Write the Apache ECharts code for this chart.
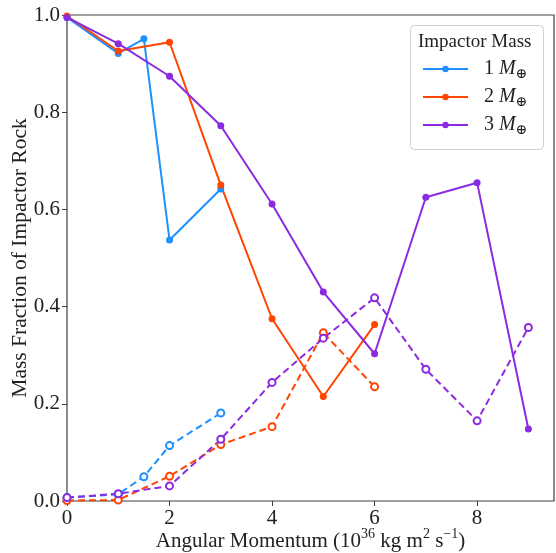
<!DOCTYPE html>
<html><head><meta charset="utf-8">
<script src="https://cdn.jsdelivr.net/npm/echarts@6/dist/echarts.min.js"></script>
<style>html,body{margin:0;padding:0;background:#fff}#c{width:556px;height:553px}</style>
</head><body><div id="c"></div>
<script>
const FONT = '"Liberation Serif", "DejaVu Serif", serif';
const xTicks = [0, 2, 4, 6, 8];
const yTicks = [0, 0.2, 0.4, 0.6, 0.8, 1.0];

const x1 = [0, 1, 1.5, 2, 3];
const m1Solid = [0.995, 0.921, 0.951, 0.537, 0.642];
const m1Dashed = [0.007, 0.014, 0.050, 0.114, 0.181];

const x2 = [0, 1, 2, 3, 4, 5, 6];
const m2Solid = [0.998, 0.926, 0.944, 0.650, 0.375, 0.215, 0.363];
const m2Dashed = [0.001, 0.002, 0.051, 0.116, 0.153, 0.346, 0.235];

const x3 = [0, 1, 2, 3, 4, 5, 6, 7, 8, 9];
const m3Solid = [0.995, 0.941, 0.874, 0.772, 0.611, 0.430, 0.303, 0.625, 0.655, 0.148];
const m3Dashed = [0.007, 0.015, 0.031, 0.127, 0.244, 0.335, 0.418, 0.271, 0.165, 0.357];

const C1 = '#1E90FF', C2 = '#FF4500', C3 = '#8A2BE2';
const pair = (xs, ys) => xs.map((x, i) => [x, ys[i]]);

function solid(name, xs, ys, color) {
  return { name, type: 'line', data: pair(xs, ys), symbol: 'circle', symbolSize: 7,
    itemStyle: { color }, lineStyle: { color, width: 2 }, z: 3 };
}
function dashed(name, xs, ys, color) {
  return { name, type: 'line', data: pair(xs, ys), symbol: 'emptyCircle', symbolSize: 7,
    itemStyle: { color, borderWidth: 1.2 }, lineStyle: { color, width: 2, type: [7, 4] }, z: 2 };
}

const TXT = '#222';
const chart = echarts.init(document.getElementById('c'), null, { renderer: 'canvas' });
const legendNames = ['1 M', '2 M', '3 M'];
chart.setOption({
  animation: false,
  textStyle: { fontFamily: FONT },
  grid: { left: 67, top: 15, right: 2, bottom: 52, containLabel: false, outerBoundsMode: 'none',
    show: true, borderColor: '#404040', borderWidth: 1.2 },
  xAxis: {
    type: 'value', min: 0, max: 9.5, interval: 2,
    axisLine: { show: false },
    splitLine: { show: false },
    axisTick: { show: true, length: 5, lineStyle: { color: '#404040' }, customValues: xTicks },
    axisLabel: { color: TXT, fontSize: 21, fontFamily: FONT, margin: 7, customValues: xTicks },
    name: '{b|Angular Momentum (10}{sup|36}{b| kg m}{sup|2}{b| s}{sup|−1}{b|)}',
    nameLocation: 'middle', nameGap: 26, nameMoveOverlap: false,
    nameTextStyle: { color: TXT, fontSize: 21, fontFamily: FONT,
      rich: {
        b: { fontSize: 21, fontFamily: FONT, color: TXT, lineHeight: 28 },
        sup: { fontSize: 14, fontFamily: FONT, color: TXT, lineHeight: 14, verticalAlign: 'top' }
      } }
  },
  yAxis: {
    type: 'value', min: 0, max: 1, interval: 0.2,
    axisLine: { show: false },
    splitLine: { show: false },
    axisTick: { show: true, length: 5, lineStyle: { color: '#404040' } },
    axisLabel: { color: TXT, fontSize: 21, fontFamily: FONT, margin: 7, formatter: v => v.toFixed(1) },
    name: 'Mass Fraction of Impactor Rock', nameLocation: 'middle', nameGap: 36, nameMoveOverlap: false,
    nameTextStyle: { color: TXT, fontSize: 21.5, fontFamily: FONT }
  },
  legend: {
    data: legendNames, orient: 'vertical', left: 422, top: 59, padding: 0,
    itemWidth: 45, itemHeight: 8, itemGap: 6,
    formatter: n => '{n|' + n.split(' ')[0] + ' }{m|M}{s|⊕}',
    textStyle: { fontFamily: FONT, color: TXT, padding: [0, 0, 0, 11],
      rich: {
        n: { fontSize: 20, fontFamily: FONT, color: TXT, lineHeight: 24 },
        m: { fontSize: 20, fontFamily: FONT, fontStyle: 'italic', color: TXT, lineHeight: 24 },
        s: { fontSize: 14, fontFamily: FONT, color: TXT, lineHeight: 12, verticalAlign: 'bottom' }
      } }
  },
  graphic: [
    { type: 'rect', left: 410, top: 25, shape: { width: 133, height: 124, r: 4 },
      style: { fill: 'rgba(255,255,255,0.8)', stroke: '#d0d0d0', lineWidth: 1 }, z: 1 },
    { type: 'text', left: 418, top: 33, style: { text: 'Impactor Mass', font: '19px ' + FONT, fill: TXT }, z: 2 }
  ],
  series: [
    solid('1 M', x1, m1Solid, C1),
    solid('2 M', x2, m2Solid, C2),
    solid('3 M', x3, m3Solid, C3),
    dashed('1 M dashed', x1, m1Dashed, C1),
    dashed('2 M dashed', x2, m2Dashed, C2),
    dashed('3 M dashed', x3, m3Dashed, C3)
  ]
});
</script></body></html>
